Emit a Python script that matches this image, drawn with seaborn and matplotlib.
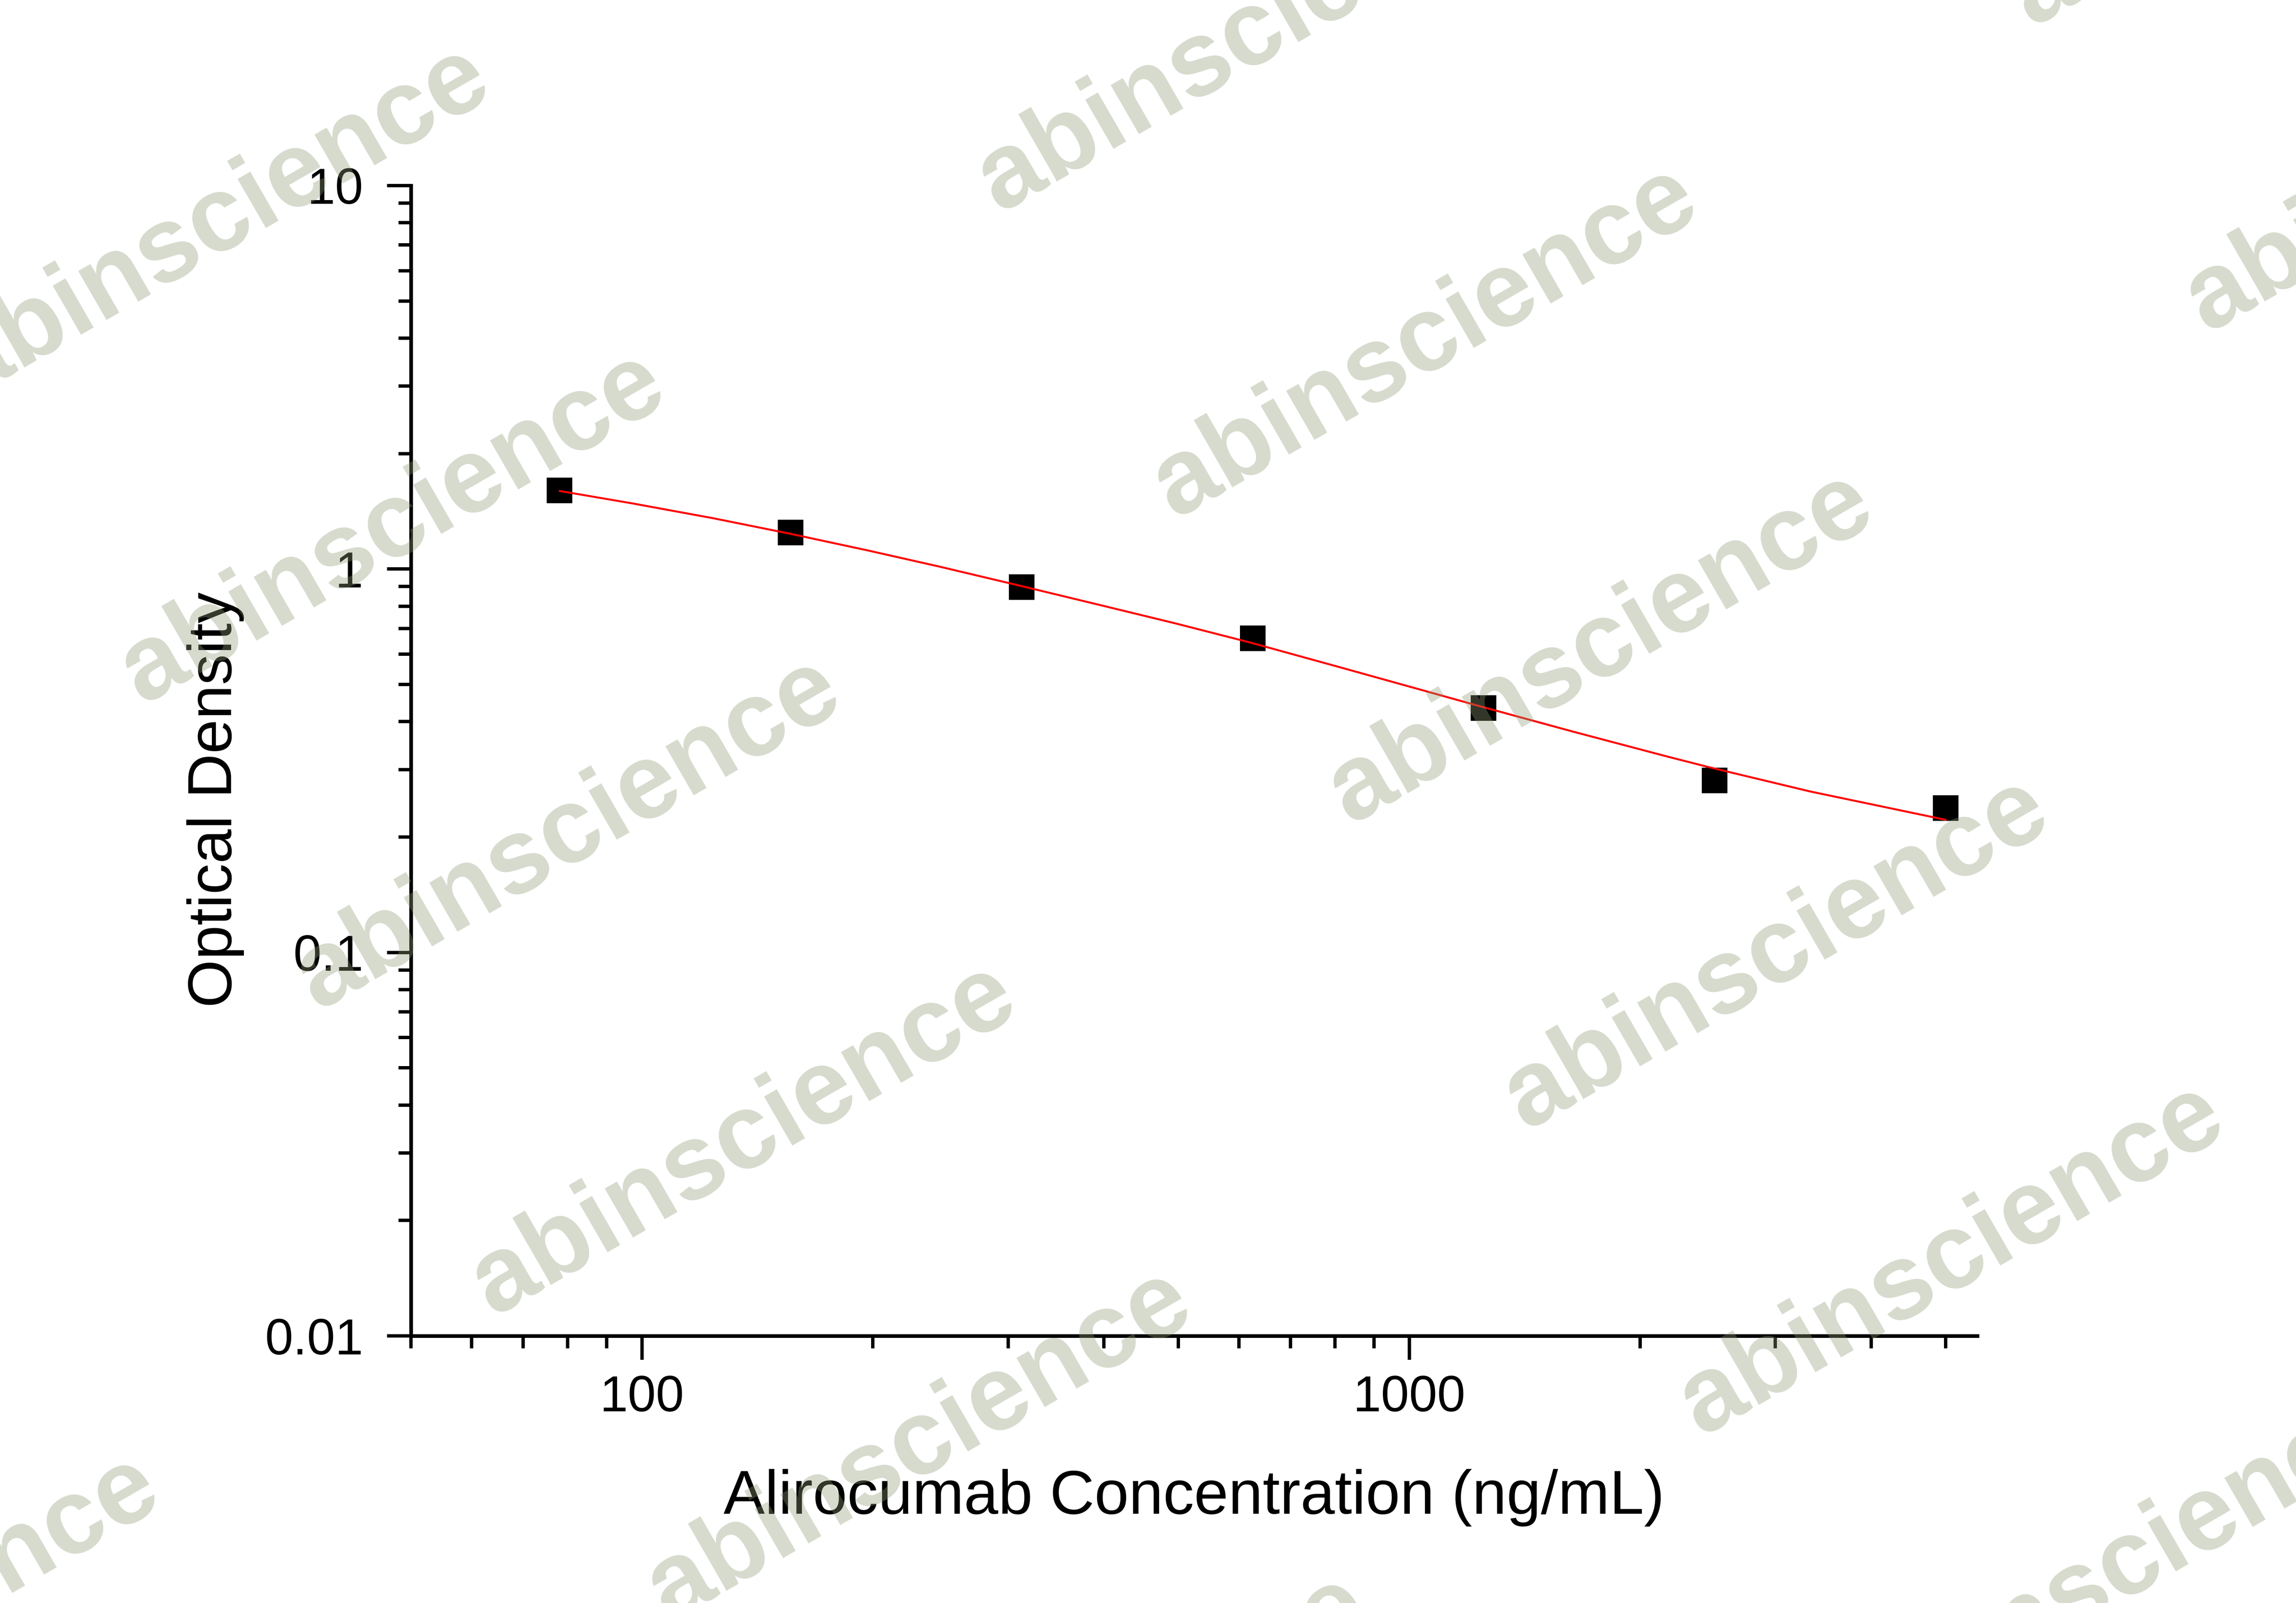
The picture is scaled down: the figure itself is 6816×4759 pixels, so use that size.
import numpy as np
import pandas as pd
import seaborn as sns
import matplotlib.pyplot as plt
import matplotlib.ticker as ticker

# standard points (serial dilution) and OD
conc = [78.125, 156.25, 312.5, 625, 1250, 2500, 5000]
od = [1.604, 1.246, 0.898, 0.660, 0.434, 0.281, 0.238]

# fitted curve at several concentrations
curve_conc = [78.1, 97, 124, 156, 197, 244, 310, 400, 495, 619,
              808, 1072, 1237, 1640, 2177, 2470, 3329, 5000]
curve_od = [1.598, 1.484, 1.356, 1.236, 1.118, 1.015, 0.906, 0.801, 0.722, 0.644,
            0.556, 0.475, 0.4385, 0.376, 0.3237, 0.3035, 0.263, 0.2218]

x_major = [100, 1000]
y_major = [0.01, 0.1, 1, 10]

points = pd.DataFrame({"conc": conc, "od": od})
curve = pd.DataFrame({"conc": curve_conc, "od": curve_od})

sns.set_style("ticks")
plt.rcParams['font.family'] = ['Liberation Sans', 'DejaVu Sans']
plt.rcParams['text.color'] = 'black'
plt.rcParams['axes.labelcolor'] = 'black'
plt.rcParams['xtick.color'] = 'black'
plt.rcParams['ytick.color'] = 'black'

W, H = 6816, 4759
fig = plt.figure(figsize=(W / 600, H / 600), dpi=600)
ax = fig.add_axes([1220 / W, 793 / H, (5870 - 1220) / W, (4208 - 793) / H])

sns.scatterplot(data=points, x="conc", y="od", marker="s", s=85,
                color="black", linewidth=0, ax=ax, zorder=3)
sns.lineplot(data=curve, x="conc", y="od", color="#ff0000", linewidth=0.7,
             sort=False, estimator=None, ax=ax, zorder=4)

ax.set_xscale("log")
ax.set_yscale("log")
ax.set_xlim(50, 5500)
ax.set_ylim(0.01, 10)

fmt = ticker.FuncFormatter(lambda v, p: f"{v:g}")
ax.xaxis.set_major_locator(ticker.FixedLocator(x_major))
ax.yaxis.set_major_locator(ticker.FixedLocator(y_major))
ax.xaxis.set_major_formatter(fmt)
ax.yaxis.set_major_formatter(fmt)
ax.xaxis.set_minor_locator(ticker.LogLocator(base=10, subs=np.arange(2, 10)))
ax.yaxis.set_minor_locator(ticker.LogLocator(base=10, subs=np.arange(2, 10)))
ax.xaxis.set_minor_formatter(ticker.NullFormatter())
ax.yaxis.set_minor_formatter(ticker.NullFormatter())

ax.tick_params(which="major", direction="out", length=8.5, width=1.2,
               labelsize=18, color="black", labelcolor="black")
ax.tick_params(which="minor", direction="out", length=4.4, width=1.2, color="black")
ax.tick_params(axis="x", which="major", pad=5.3)
ax.tick_params(axis="y", which="major", pad=8.5)

for side in ["top", "right"]:
    ax.spines[side].set_visible(False)
for side in ["left", "bottom"]:
    ax.spines[side].set_linewidth(1.3)
    ax.spines[side].set_color("black")

ax.set_xlabel("Alirocumab Concentration (ng/mL)", fontsize=22, color="black")
ax.set_ylabel("Optical Density", fontsize=22, color="black")
ax.xaxis.set_label_coords(0.5, -0.1157)
ax.yaxis.set_label_coords(-0.1065, 0.466)

# watermark tiling
base = np.array([1166, 1568])
step_a = np.array([521, 908])
step_b = np.array([3065, -552])
for i in range(-4, 7):
    for j in range(-2, 4):
        cx, cy = base + i * step_a + j * step_b
        if -1200 < cx < W + 1200 and -800 < cy < H + 800:
            fig.text(cx / W, 1 - cy / H, "abinscience", fontsize=38,
                     fontweight="bold", color="#8e9c78", alpha=0.36,
                     rotation=30, rotation_mode="anchor",
                     ha="center", va="center", zorder=10)

fig.savefig("out.png", dpi=600, facecolor="white")
